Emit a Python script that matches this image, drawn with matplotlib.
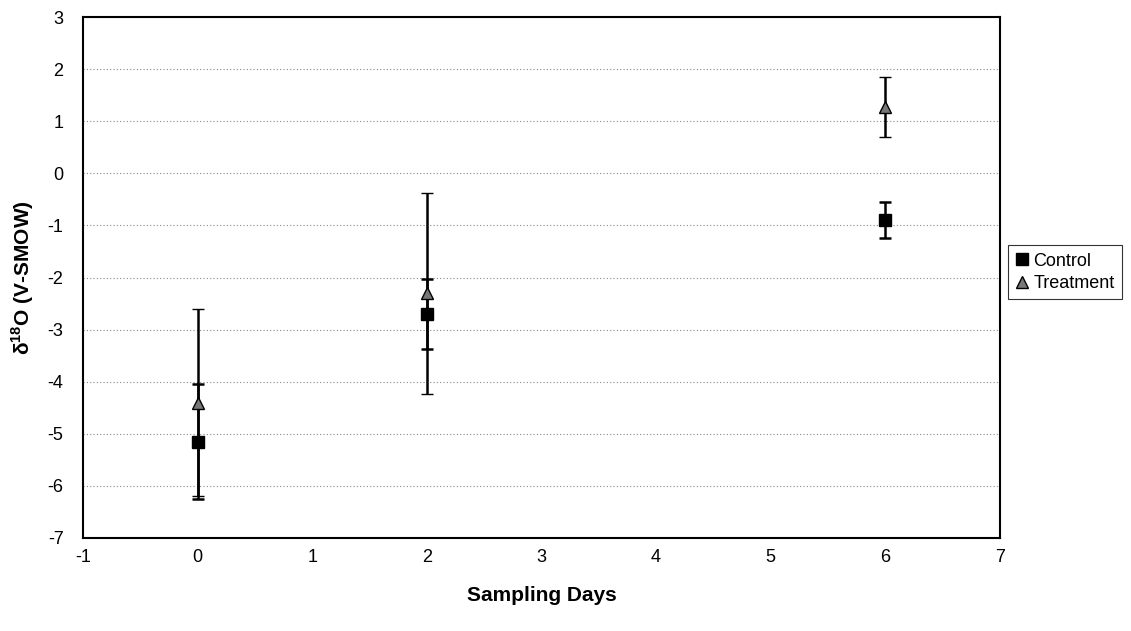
import matplotlib
matplotlib.use("Agg")
import matplotlib.pyplot as plt
from matplotlib.lines import Line2D

plt.rcParams["font.family"] = ["Liberation Sans", "DejaVu Sans"]
plt.rcParams["mathtext.fontset"] = "custom"
plt.rcParams["mathtext.rm"] = "Liberation Sans"
plt.rcParams["mathtext.bf"] = "Liberation Sans:bold"
plt.rcParams["axes.unicode_minus"] = False

days = [0, 2, 6]
control = [-5.15, -2.70, -0.90]
control_err = [1.10, 0.68, 0.35]
treatment = [-4.40, -2.30, 1.27]
treatment_err = [1.80, 1.93, 0.58]

fig = plt.figure(figsize=(11.31, 6.31), dpi=100)
ax = fig.add_axes([0.0734, 0.1474, 0.8107, 0.8256])

ax.errorbar(days, control, yerr=control_err, fmt="s", color="black",
            markersize=9, ecolor="black", elinewidth=1.8, capsize=4.5,
            capthick=1.8, zorder=3)
ax.errorbar(days, treatment, yerr=treatment_err, fmt="^", color="#777777",
            markeredgecolor="black", markeredgewidth=1.0, markersize=9,
            ecolor="black", elinewidth=1.8, capsize=4.5, capthick=1.8,
            zorder=4)

ax.set_xlim(-1, 7)
ax.set_ylim(-7, 3)
ax.set_xticks(range(-1, 8))
ax.set_yticks(range(-7, 4))
ax.grid(axis="y", linestyle=(0, (1, 2)), color="#888888", linewidth=0.8)
ax.set_axisbelow(True)
for s in ax.spines.values():
    s.set_linewidth(1.5)
ax.tick_params(axis="y", labelsize=13, direction="out", length=0, pad=14)
ax.tick_params(axis="x", labelsize=13, direction="out", length=0, pad=8)

ax.set_xlabel("Sampling Days", fontsize=15, fontweight="bold", labelpad=14)
ax.set_ylabel(r"δ$^{\mathbf{18}}$O (V-SMOW)", fontsize=15, fontweight="bold",
              labelpad=8)

handles = [
    Line2D([], [], linestyle="none", marker="s", color="black", markersize=8),
    Line2D([], [], linestyle="none", marker="^", color="#777777",
           markeredgecolor="black", markersize=8),
]
leg = ax.legend(handles, ["Control", "Treatment"], loc="center left",
                bbox_to_anchor=(1.009, 0.51), fontsize=13, frameon=True,
                fancybox=False, edgecolor="black", handlelength=0.7,
                handletextpad=0.3, borderpad=0.4, labelspacing=0.3,
                borderaxespad=0)
leg.get_frame().set_linewidth(0.8)

fig.savefig("out.png", dpi=100)
